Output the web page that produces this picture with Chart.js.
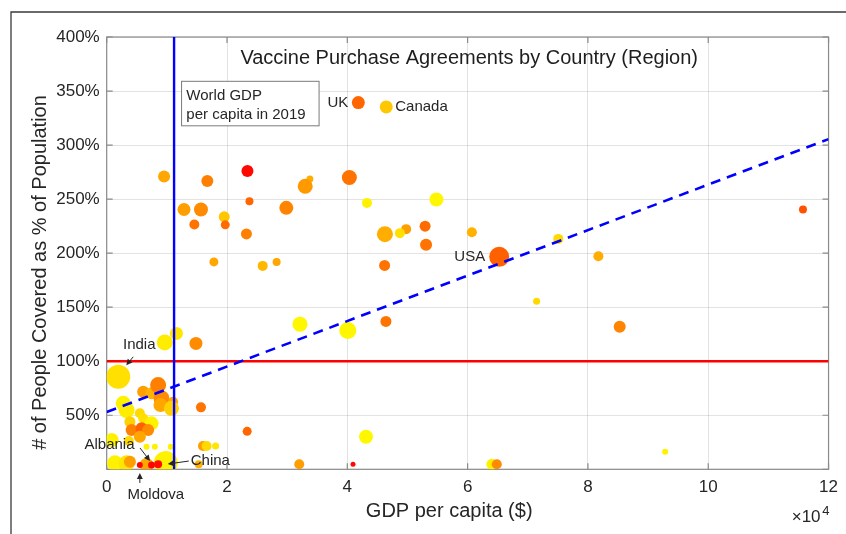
<!DOCTYPE html>
<html>
<head>
<meta charset="utf-8">
<title>Vaccine Purchase Agreements by Country (Region)</title>
<script src="https://cdn.jsdelivr.net/npm/chart.js@4.4.1/dist/chart.umd.min.js"></script>
<style>
  html, body { margin: 0; padding: 0; background: #ffffff; }
  #wrap { position: relative; width: 846px; height: 534px; }
</style>
</head>
<body>
<div id="wrap"><canvas id="chart" width="846" height="534"></canvas></div>
<script>
// ---- data -------------------------------------------------------------
// GDP per capita (US$) of each country / region
const gdpPerCapita = [
  9540, 16730, 23400, 23730, 12850, 15670, 14570, 19540, 19710, 23230,
  29860, 17820, 25930, 28250, 41830, 46470, 33780, 33000, 40340, 43270,
  54810, 46250, 49780, 48740, 52930, 53090, 60710, 46200, 65250, 75070,
  81740, 115750, 85280, 71470, 92840, 32130, 40080, 46420, 43110, 32010,
  40950, 64020, 64850, 23350, 14840, 15670, 16000, 16610, 18100, 15290,
  11590, 9650, 1920, 6060, 7450, 8550, 9110, 8940, 11030, 10760,
  2750, 3310, 5510, 6060, 3860, 7450, 4140, 5800, 6890, 5510,
  830, 3690, 6620, 8000, 10650, 1370, 3310, 3860, 6620, 9820,
  5510, 7450, 8550
];
// people covered by purchase agreements, % of population
const coveragePct = [
  270.9, 266.8, 276.1, 248.1, 240.4, 240.4, 226.5, 233.6, 226.2, 217.8,
  241.9, 191.9, 188.2, 191.9, 339.3, 335.3, 268.7, 261.9, 270.0, 246.5,
  249.6, 217.6, 222.2, 218.5, 225.0, 207.7, 219.4, 188.6, 196.6, 213.2,
  197.2, 240.4, 131.8, 155.6, 16.3, 134.3, 128.5, 136.8, 30.1, 4.6,
  4.6, 4.6, 4.6, 35.1, 116.5, 57.3, 21.5, 21.5, 21.5, 4.6,
  125.7, 117.4, 85.6, 71.7, 70.3, 77.9, 65.6, 59.5, 62.5, 56.4,
  61.0, 54.8, 51.8, 47.2, 44.0, 42.5, 36.3, 37.9, 36.3, 30.1,
  27.1, 26.2, 20.9, 20.9, 20.9, 5.5, 5.5, 7.0, 4.0, 5.8,
  4.0, 4.0, 4.6
];
// marker radius (px)
const bubbleRadius = [
  6, 6, 6, 4, 6.5, 7, 5, 5.5, 4.5, 5.5,
  7, 4.5, 5, 4, 6.5, 6.5, 3.5, 7.5, 7.5, 5,
  7, 8, 5, 5, 5.5, 6, 5, 5.5, 10, 5,
  5, 4, 6, 3.5, 3, 7.5, 8.5, 5.5, 7, 5,
  2.5, 5.5, 5, 4.5, 6.5, 5, 5, 5, 3.5, 4,
  6.5, 8, 12, 6, 6, 8, 8, 7, 5, 7.5,
  7.5, 8, 5, 5, 5.5, 7, 6, 6, 6, 6,
  7, 5, 3, 3, 3, 8, 8, 6, 7, 12,
  3, 3.5, 4
];
// colour level on the red (0) -> yellow (1) scale
const colorLevel = [
  0.65, 0.5, 0.03, 0.4, 0.62, 0.55, 0.45, 0.78, 0.42, 0.5,
  0.52, 0.65, 0.72, 0.65, 0.4, 0.78, 0.68, 0.6, 0.45, 0.95,
  0.97, 0.68, 0.62, 0.88, 0.42, 0.45, 0.7, 0.45, 0.38, 0.85,
  0.68, 0.32, 0.52, 0.85, 0.95, 0.97, 0.97, 0.45, 0.97, 0.62,
  0.03, 0.95, 0.55, 0.4, 0.55, 0.45, 0.62, 0.85, 0.9, 0.7,
  0.9, 0.93, 0.88, 0.62, 0.7, 0.5, 0.55, 0.65, 0.65, 0.82,
  0.95, 0.93, 0.85, 0.88, 0.82, 0.95, 0.5, 0.38, 0.55, 0.65,
  0.95, 0.85, 0.95, 0.95, 0.95, 0.95, 0.9, 0.62, 0.65, 0.95,
  0.02, 0.02, 0.05
];
// names shown next to selected markers
const countryNames = [];
countryNames[14] = 'UK';
countryNames[15] = 'Canada';
countryNames[28] = 'USA';
countryNames[52] = 'India';
countryNames[79] = 'China';
countryNames[80] = 'Moldova';
countryNames[81] = 'Albania';

const worldGdpPerCapita2019 = 11200;      // vertical reference line
const fullCoverage = 100;                 // horizontal reference line (%)
const trendX = [0, 120000];
const trendY = [53, 305.5];

const xTicks = [0, 20000, 40000, 60000, 80000, 100000, 120000];
const yTicks = [0, 50, 100, 150, 200, 250, 300, 350, 400];

// ---- styling ----------------------------------------------------------
const FONT = "'Liberation Sans', Arial, Helvetica, sans-serif";
const INK = '#262626';
const AXIS = '#8a8a8a';

function autumn(t) {
  return 'rgb(255,' + Math.round(255 * t) + ',0)';
}

const bubblePoints = gdpPerCapita.map((x, i) => ({ x: x, y: coveragePct[i], r: bubbleRadius[i] }));
const bubbleColors = colorLevel.map(autumn);

// label placement relative to the marker centre
const labelSpec = {
  'UK':      { dx: -10, dy: 0, align: 'left-of' },
  'Canada':  { dx: 9, dy: 0, align: 'right-of' },
  'USA':     { dx: -14, dy: 0, align: 'left-of' },
  'India':   { dx: 21, dy: -32, align: 'center', arrow: [15, -20, 8, -11.5] },
  'Albania': { dx: -42, dy: -20, align: 'center', arrow: [-11.5, -17, -1.5, -4] },
  'China':   { dx: 25, dy: -2, align: 'right-of', arrow: [23, -2, 2, 1] },
  'Moldova': { dx: 16, dy: 30, align: 'center', arrow: [0, 18, 0, 8] }
};

function drawArrow(ctx, x1, y1, x2, y2) {
  const ang = Math.atan2(y2 - y1, x2 - x1);
  const hl = 6, hw = 3;
  ctx.beginPath();
  ctx.moveTo(x1, y1);
  ctx.lineTo(x2 - Math.cos(ang) * hl * 0.8, y2 - Math.sin(ang) * hl * 0.8);
  ctx.stroke();
  ctx.beginPath();
  ctx.moveTo(x2, y2);
  ctx.lineTo(x2 - Math.cos(ang) * hl + Math.sin(ang) * hw, y2 - Math.sin(ang) * hl - Math.cos(ang) * hw);
  ctx.lineTo(x2 - Math.cos(ang) * hl - Math.sin(ang) * hw, y2 - Math.sin(ang) * hl + Math.cos(ang) * hw);
  ctx.closePath();
  ctx.fill();
}

const decorations = {
  id: 'decorations',
  beforeDraw(chart) {
    const ctx = chart.ctx;
    ctx.save();
    ctx.fillStyle = '#ffffff';
    ctx.fillRect(0, 0, chart.width, chart.height);
    ctx.restore();
  },
  beforeDatasetsDraw(chart) {
    // axes box with inward tick marks on all four sides
    const { ctx, chartArea: a, scales: { x, y } } = chart;
    ctx.save();
    ctx.strokeStyle = AXIS;
    ctx.lineWidth = 1.2;
    ctx.strokeRect(a.left, a.top, a.right - a.left, a.bottom - a.top);
    const tl = 6;
    ctx.beginPath();
    xTicks.forEach(v => {
      const px = x.getPixelForValue(v);
      ctx.moveTo(px, a.bottom); ctx.lineTo(px, a.bottom - tl);
      ctx.moveTo(px, a.top); ctx.lineTo(px, a.top + tl);
    });
    yTicks.forEach(v => {
      const py = y.getPixelForValue(v);
      ctx.moveTo(a.left, py); ctx.lineTo(a.left + tl, py);
      ctx.moveTo(a.right, py); ctx.lineTo(a.right - tl, py);
    });
    ctx.stroke();
    ctx.restore();
  },
  afterDatasetsDraw(chart) {
    const { ctx, scales: { x, y } } = chart;
    ctx.save();
    // text box next to the world GDP line
    const bx = x.getPixelForValue(worldGdpPerCapita2019) + 7.5;
    const by = y.getPixelForValue(359);
    ctx.fillStyle = '#ffffff';
    ctx.fillRect(bx, by, 137.5, 44.5);
    ctx.strokeStyle = '#7a7a7a';
    ctx.lineWidth = 1;
    ctx.strokeRect(bx, by, 137.5, 44.5);
    ctx.fillStyle = INK;
    ctx.font = '15px ' + FONT;
    ctx.textAlign = 'left';
    ctx.textBaseline = 'alphabetic';
    ctx.fillText('World GDP', bx + 4.8, by + 18.6);
    ctx.fillText('per capita in 2019', bx + 4.8, by + 37.6);

    // country labels
    ctx.strokeStyle = INK;
    ctx.lineWidth = 1;
    countryNames.forEach((name, i) => {
      if (!name) return;
      const s = labelSpec[name];
      const px = x.getPixelForValue(gdpPerCapita[i]);
      const py = y.getPixelForValue(coveragePct[i]);
      ctx.fillStyle = INK;
      ctx.font = '15px ' + FONT;
      ctx.textBaseline = 'middle';
      ctx.textAlign = s.align === 'left-of' ? 'right' : (s.align === 'right-of' ? 'left' : 'center');
      ctx.fillText(name, px + s.dx, py + s.dy);
      if (s.arrow) {
        drawArrow(ctx, px + s.arrow[0], py + s.arrow[1], px + s.arrow[2], py + s.arrow[3]);
      }
    });
    ctx.restore();
  },
  afterDraw(chart) {
    const ctx = chart.ctx;
    ctx.save();
    ctx.fillStyle = '#1e1e1e';
    ctx.textBaseline = 'alphabetic';
    // title inside the axes
    ctx.font = '20px ' + FONT;
    ctx.textAlign = 'center';
    ctx.fillText('Vaccine Purchase Agreements by Country (Region)', 469.2, 64);
    // axis titles
    ctx.fillStyle = INK;
    ctx.fillText('GDP per capita ($)', 449.2, 517.3);
    ctx.save();
    ctx.translate(45.5, 272.5);
    ctx.rotate(-Math.PI / 2);
    ctx.fillText('# of People Covered as % of Population', 0, 0);
    ctx.restore();
    // exponent of the x axis
    ctx.textAlign = 'left';
    ctx.font = '17px ' + FONT;
    ctx.fillText('\u00d710', 791.7, 521.7);
    ctx.font = '13px ' + FONT;
    ctx.fillText('4', 822.3, 514.5);
    // figure frame
    ctx.strokeStyle = '#3a3a3a';
    ctx.lineWidth = 1.3;
    ctx.beginPath();
    ctx.moveTo(11, 534);
    ctx.lineTo(11, 12);
    ctx.lineTo(846, 12);
    ctx.stroke();
    ctx.restore();
  }
};

new Chart(document.getElementById('chart'), {
  type: 'bubble',
  data: {
    datasets: [
      {
        type: 'line',
        data: trendX.map((v, i) => ({ x: v, y: trendY[i] })),
        borderColor: '#0000ff',
        borderWidth: 2.6,
        borderDash: [10, 7],
        pointRadius: 0,
        fill: false,
        order: 0
      },
      {
        type: 'line',
        data: [{ x: worldGdpPerCapita2019, y: 0 }, { x: worldGdpPerCapita2019, y: 400 }],
        borderColor: '#0000ff',
        borderWidth: 2.4,
        pointRadius: 0,
        fill: false,
        order: 0
      },
      {
        type: 'line',
        data: [{ x: 0, y: fullCoverage }, { x: 120000, y: fullCoverage }],
        borderColor: '#ff0000',
        borderWidth: 2.6,
        pointRadius: 0,
        fill: false,
        order: 0
      },
      {
        type: 'bubble',
        data: bubblePoints,
        backgroundColor: bubbleColors,
        borderWidth: 0,
        hoverBorderWidth: 0,
        order: 1
      }
    ]
  },
  options: {
    responsive: false,
    animation: false,
    events: [],
    layout: { padding: { left: 0, right: 14, top: 37, bottom: 0 } },
    plugins: {
      legend: { display: false },
      tooltip: { enabled: false },
      title: { display: false }
    },
    scales: {
      x: {
        type: 'linear',
        position: 'bottom',
        min: 0,
        max: 120000,
        afterBuildTicks(scale) { scale.ticks = xTicks.map(v => ({ value: v })); },
        ticks: {
          callback: v => String(v / 10000),
          font: { family: FONT, size: 17 },
          color: INK,
          padding: 8,
          maxRotation: 0,
          autoSkip: false
        },
        grid: { color: 'rgba(38,38,38,0.13)', lineWidth: 1, drawTicks: false },
        border: { display: false },
        afterFit(scale) { scale.height = 64.7; }
      },
      y: {
        type: 'linear',
        position: 'left',
        min: 0,
        max: 400,
        afterBuildTicks(scale) { scale.ticks = yTicks.map(v => ({ value: v })); },
        ticks: {
          callback: v => (v === 0 ? '' : v + '%'),
          font: { family: FONT, size: 17 },
          color: INK,
          padding: 7,
          autoSkip: false
        },
        grid: { color: 'rgba(38,38,38,0.13)', lineWidth: 1, drawTicks: false },
        border: { display: false },
        afterFit(scale) { scale.width = 106.7; }
      }
    }
  },
  plugins: [decorations]
});
</script>
</body>
</html>
